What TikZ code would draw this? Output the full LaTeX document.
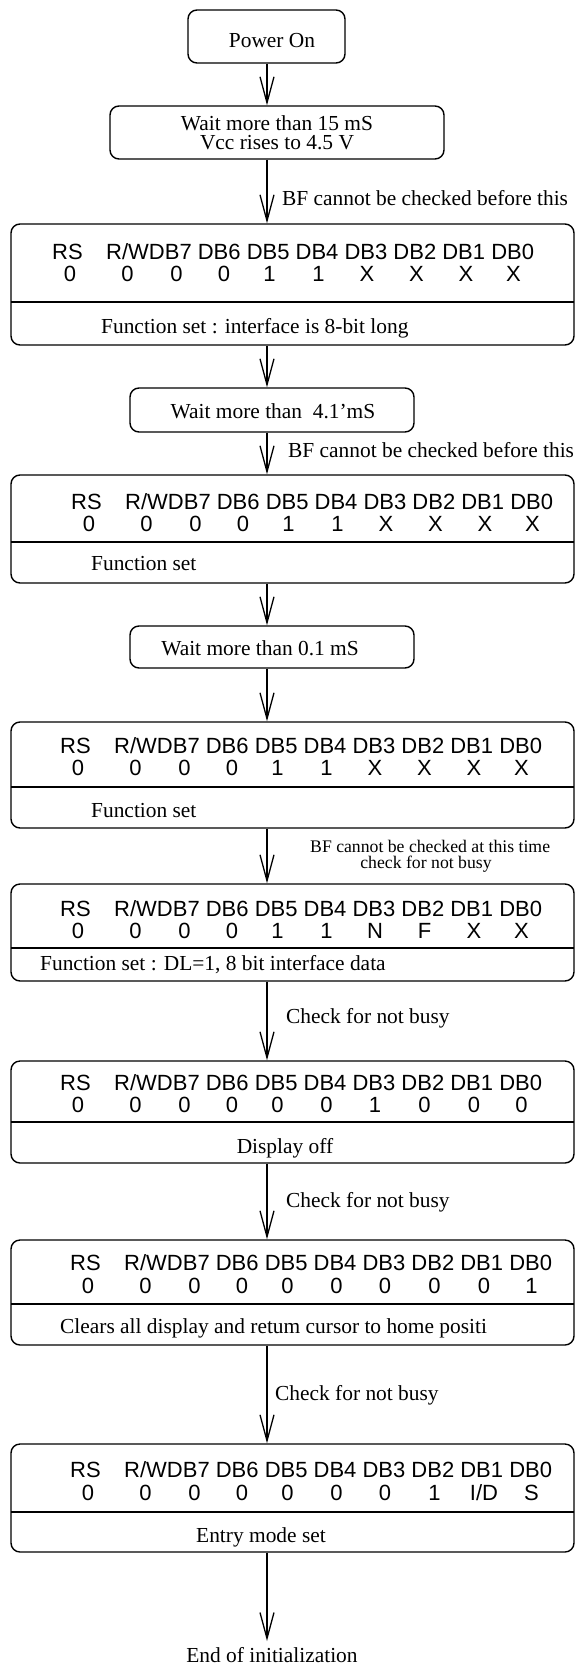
\documentclass[tikz,border=0pt]{standalone}
\usepackage{fontspec}
\setmainfont{Liberation Serif}
\newfontfamily\hdrfont{Liberation Sans}
\usetikzlibrary{arrows.meta}
\newcommand\bitrow[5]{%
  \node[hdr, anchor=base west] (#1rs) at (#2,#3) {RS};
  \node[hdr, anchor=base west] (#1hd) at (#2+54,#3) {R/WDB7 DB6 DB5 DB4 DB3 DB2 DB1 DB0};
  \foreach \v [count=\i from 0] in {#5} {
    \pgfmathsetmacro\off{{18,75.5,124.5,172,217.5,266.5,315,364.5,414,461.5}[\i]}
    \node[hdr, anchor=base] (#1v\i) at (#2+\off,#4) {\v};
  }
}
\begin{document}
\begin{tikzpicture}[x=1pt,y=-1pt,
  box/.style={draw, line width=1.4pt, rounded corners=9pt, inner sep=0pt},
  flow/.style={line width=1.3pt, -{Straight Barb[length=26pt,width=14pt]}},
  divider/.style={line width=1.4pt},
  serif/.style={font=\fontsize{21.4}{24}\selectfont, inner sep=0pt},
  small/.style={font=\fontsize{17.7}{20}\selectfont, inner sep=0pt},
  hdr/.style={font=\hdrfont\fontsize{22}{26}\selectfont, inner sep=0pt},
  ]
\useasboundingbox (0,0) rectangle (575,1665);
\coordinate (ax) at (267,0);

% small boxes
\node[box, minimum width=157pt, minimum height=53pt] (p) at (266.5,36.5) {};
\node[serif, anchor=base] (pt) at (272,47) {Power On};
\node[box, minimum width=334pt, minimum height=53pt] (w1) at (277,132.5) {};
\node[serif, align=center, font=\fontsize{21.4}{19}\selectfont] (w1t) at (277,133) {Wait more than 15 mS\\Vcc rises to 4.5 V};
\node[box, minimum width=284pt, minimum height=44pt] (w2) at (272,410) {};
\node[serif, anchor=base] (w2t) at (273,418) {Wait more than\ \ 4.1'mS};
\node[box, minimum width=284pt, minimum height=42pt] (w3) at (272,647) {};
\node[serif, anchor=base] (w3t) at (260,655) {Wait more than 0.1 mS};

% big boxes
\node[box, minimum width=563pt, minimum height=121pt] (b1) at (292.5,284.5) {};
\node[box, minimum width=563pt, minimum height=108pt] (b2) at (292.5,529) {};
\node[box, minimum width=563pt, minimum height=106pt] (b3) at (292.5,775) {};
\node[box, minimum width=563pt, minimum height=97pt] (b4) at (292.5,932.5) {};
\node[box, minimum width=563pt, minimum height=102pt] (b5) at (292.5,1112) {};
\node[box, minimum width=563pt, minimum height=105pt] (b6) at (292.5,1292.5) {};
\node[box, minimum width=563pt, minimum height=108pt] (b7) at (292.5,1498) {};

\draw[divider] (11,302) -- (574,302);
\draw[divider] (11,542) -- (574,542);
\draw[divider] (11,787) -- (574,787);
\draw[divider] (11,948) -- (574,948);
\draw[divider] (11,1122) -- (574,1122);
\draw[divider] (11,1304) -- (574,1304);
\draw[divider] (11,1512) -- (574,1512);

\bitrow{r1}{52}{259}{281}{0,0,0,0,1,1,X,X,X,X}
\bitrow{r2}{71}{509}{531}{0,0,0,0,1,1,X,X,X,X}
\bitrow{r3}{60}{753}{775}{0,0,0,0,1,1,X,X,X,X}
\bitrow{r4}{60}{916}{938}{0,0,0,0,1,1,N,F,X,X}
\bitrow{r5}{60}{1090}{1112}{0,0,0,0,0,0,1,0,0,0}
\bitrow{r6}{70}{1270}{1293}{0,0,0,0,0,0,0,0,0,1}
\bitrow{r7}{70}{1477}{1500}{0,0,0,0,0,0,0,1,I/D,S}

\node[serif, anchor=base west] (t1) at (101,333) {Function set : interface is 8-bit long};
\node[serif, anchor=base west] (t2) at (91,570) {Function set};
\node[serif, anchor=base west] (t3) at (91,817) {Function set};
\node[serif, anchor=base west] (t4) at (40,970) {Function set : DL=1, 8 bit interface data};
\node[serif, anchor=base] (t5) at (285,1153) {Display off};
\node[serif, anchor=base west] (t6) at (60,1333) {Clears all display and retum cursor to home positi};
\node[serif, anchor=base] (t7) at (261,1542) {Entry mode set};

% labels
\node[serif, anchor=base west] (l1) at (282,205) {BF cannot be checked before this};
\node[serif, anchor=base west] (l2) at (288,457) {BF cannot be checked before this};
\node[small, anchor=base west] (l3a) at (310,852) {BF cannot be checked at this time};
\node[small, anchor=base] (l3b) at (426,868) {check for not busy};
\node[serif, anchor=base west] (l4) at (286,1023) {Check for not busy};
\node[serif, anchor=base west] (l5) at (286,1207) {Check for not busy};
\node[serif, anchor=base west] (l6) at (275,1400) {Check for not busy};
\node[serif, anchor=base] (endt) at (272,1662) {End of initialization};
\coordinate (endtip) at (267,1641);

% connectors
\draw[flow] (ax |- p.south) -- (ax |- w1.north);
\draw[flow] (ax |- w1.south) -- (ax |- b1.north);
\draw[flow] (ax |- b1.south) -- (ax |- w2.north);
\draw[flow] (ax |- w2.south) -- (ax |- b2.north);
\draw[flow] (ax |- b2.south) -- (ax |- w3.north);
\draw[flow] (ax |- w3.south) -- (ax |- b3.north);
\draw[flow] (ax |- b3.south) -- (ax |- b4.north);
\draw[flow] (ax |- b4.south) -- (ax |- b5.north);
\draw[flow] (ax |- b5.south) -- (ax |- b6.north);
\draw[flow] (ax |- b6.south) -- (ax |- b7.north);
\draw[flow] (ax |- b7.south) -- (endtip);
\end{tikzpicture}
\end{document}
